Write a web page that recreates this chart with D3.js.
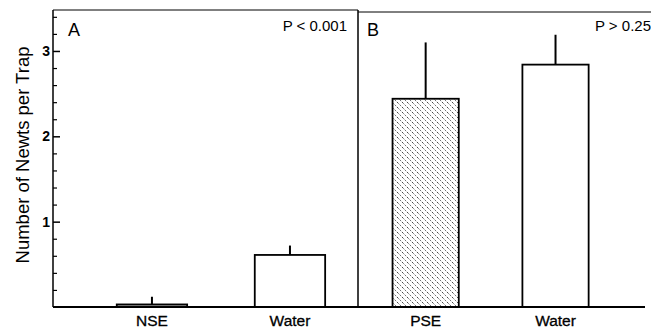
<!DOCTYPE html>
<html>
<head>
<meta charset="utf-8">
<script src="https://cdn.jsdelivr.net/npm/d3@7"></script>
<style>
  body { margin: 0; background: #fff; }
  svg { display: block; font-family: "Liberation Sans", Arial, sans-serif; }
</style>
</head>
<body>
<svg id="chart" width="651" height="333"></svg>
<script>
// data
const panelA = ['NSE', 'Water'];
const meansA = [0.03, 0.61];
const errA = [0.12, 0.72];
const panelB = ['PSE', 'Water'];
const meansB = [2.44, 2.84];
const errB = [3.10, 3.19];
const yTicks = [1, 2, 3];
const pLabels = ['P < 0.001', 'P > 0.25'];

const svg = d3.select('#chart');
const W = 651;
const xLeft = 53, xMid = 358, xRight = 645, yTop = 10, yBase = 307;

const y = d3.scaleLinear().domain([0, 3.48]).range([yBase, yTop]);

// hatch patterns
const defs = svg.append('defs');
const hatch = defs.append('pattern')
  .attr('id', 'hatch').attr('patternUnits', 'userSpaceOnUse')
  .attr('width', 5).attr('height', 5);
hatch.append('rect').attr('width', 5).attr('height', 5).attr('fill', '#fff');
hatch.append('path').attr('d', 'M-1,-1 L6,6 M-4,1 L4,9 M1,-4 L9,4')
  .attr('stroke', '#333').attr('stroke-width', 0.9).attr('stroke-dasharray', '2.5,1.5');
const dots = defs.append('pattern')
  .attr('id', 'dots').attr('patternUnits', 'userSpaceOnUse')
  .attr('width', 3).attr('height', 3);
dots.append('rect').attr('width', 3).attr('height', 3).attr('fill', '#aaa');
dots.append('rect').attr('width', 1.5).attr('height', 1.5).attr('fill', '#333');

// y axis with inward ticks
const minor = d3.range(0.2, 3.45, 0.2).filter(v => Math.abs(v - Math.round(v)) > 0.01);
svg.append('g').attr('transform', `translate(${xLeft},0)`)
  .call(d3.axisLeft(y).tickValues(minor).tickSizeInner(-4).tickSizeOuter(0).tickFormat(''))
  .call(g => g.select('.domain').remove())
  .selectAll('line').attr('stroke', '#000').attr('stroke-width', 1.2);
svg.append('g').attr('transform', `translate(${xLeft},0)`)
  .call(d3.axisLeft(y).tickValues(yTicks).tickSizeInner(-7).tickSizeOuter(0).tickPadding(3).tickFormat(d3.format('d')))
  .call(g => g.select('.domain').remove())
  .call(g => g.selectAll('line').attr('stroke', '#000').attr('stroke-width', 1.5))
  .call(g => g.selectAll('text').attr('font-size', 14).attr('font-weight', 'bold').attr('fill', '#000'));

// frame
svg.append('line').attr('x1', xLeft).attr('x2', xLeft).attr('y1', yTop).attr('y2', yBase)
  .attr('stroke', '#000').attr('stroke-width', 1.5);
svg.append('line').attr('x1', xMid).attr('x2', xMid).attr('y1', yTop).attr('y2', yBase)
  .attr('stroke', '#000').attr('stroke-width', 1.5);
svg.append('line').attr('x1', xLeft).attr('x2', xMid).attr('y1', yTop).attr('y2', yTop)
  .attr('stroke', '#000').attr('stroke-width', 1);
svg.append('line').attr('x1', xMid).attr('x2', W).attr('y1', yTop + 2).attr('y2', yTop + 2)
  .attr('stroke', '#000').attr('stroke-width', 1);

function drawPanel(cats, means, errs, x0, x1, align, fills, letter, letterDx, pText, pRight) {
  const x = d3.scaleBand().domain(cats).range([x0, x1])
    .paddingInner(0.49).paddingOuter(0.35).align(align);
  const g = svg.append('g');
  g.selectAll('line.err').data(cats).enter().append('line')
    .attr('x1', d => x(d) + x.bandwidth() / 2).attr('x2', d => x(d) + x.bandwidth() / 2)
    .attr('y1', (d, i) => y(means[i])).attr('y2', (d, i) => y(errs[i]))
    .attr('stroke', '#000').attr('stroke-width', 2);
  g.selectAll('rect.bar').data(cats).enter().append('rect')
    .attr('x', d => x(d)).attr('width', x.bandwidth())
    .attr('y', (d, i) => y(means[i])).attr('height', (d, i) => yBase - y(means[i]))
    .attr('fill', (d, i) => fills[i]).attr('stroke', '#000').attr('stroke-width', 1.8);
  g.selectAll('text.cat').data(cats).enter().append('text')
    .attr('x', d => x(d) + x.bandwidth() / 2).attr('y', yBase + 19)
    .attr('text-anchor', 'middle').attr('font-size', 15.5)
    .attr('stroke', '#000').attr('stroke-width', 0.3)
    .text(d => d);
  g.append('text').attr('x', x0 + letterDx).attr('y', 36).attr('font-size', 18).text(letter);
  g.append('text').attr('x', pRight).attr('y', 31).attr('text-anchor', 'end')
    .attr('font-size', 15).text(pText);
}

drawPanel(panelA, meansA, errA, xLeft, xMid, 0.66, ['url(#dots)', '#fff'], 'A', 15, pLabels[0], 347);
drawPanel(panelB, meansB, errB, xMid, xRight, 0.38, ['url(#hatch)', '#fff'], 'B', 9, pLabels[1], 651);

// baseline
svg.append('line').attr('x1', xLeft).attr('x2', xRight).attr('y1', yBase).attr('y2', yBase)
  .attr('stroke', '#000').attr('stroke-width', 2);

// y title
svg.append('text').attr('transform', 'translate(29,155) rotate(-90)')
  .attr('text-anchor', 'middle').attr('font-size', 18.5).text('Number of Newts per Trap');
</script>
</body>
</html>
